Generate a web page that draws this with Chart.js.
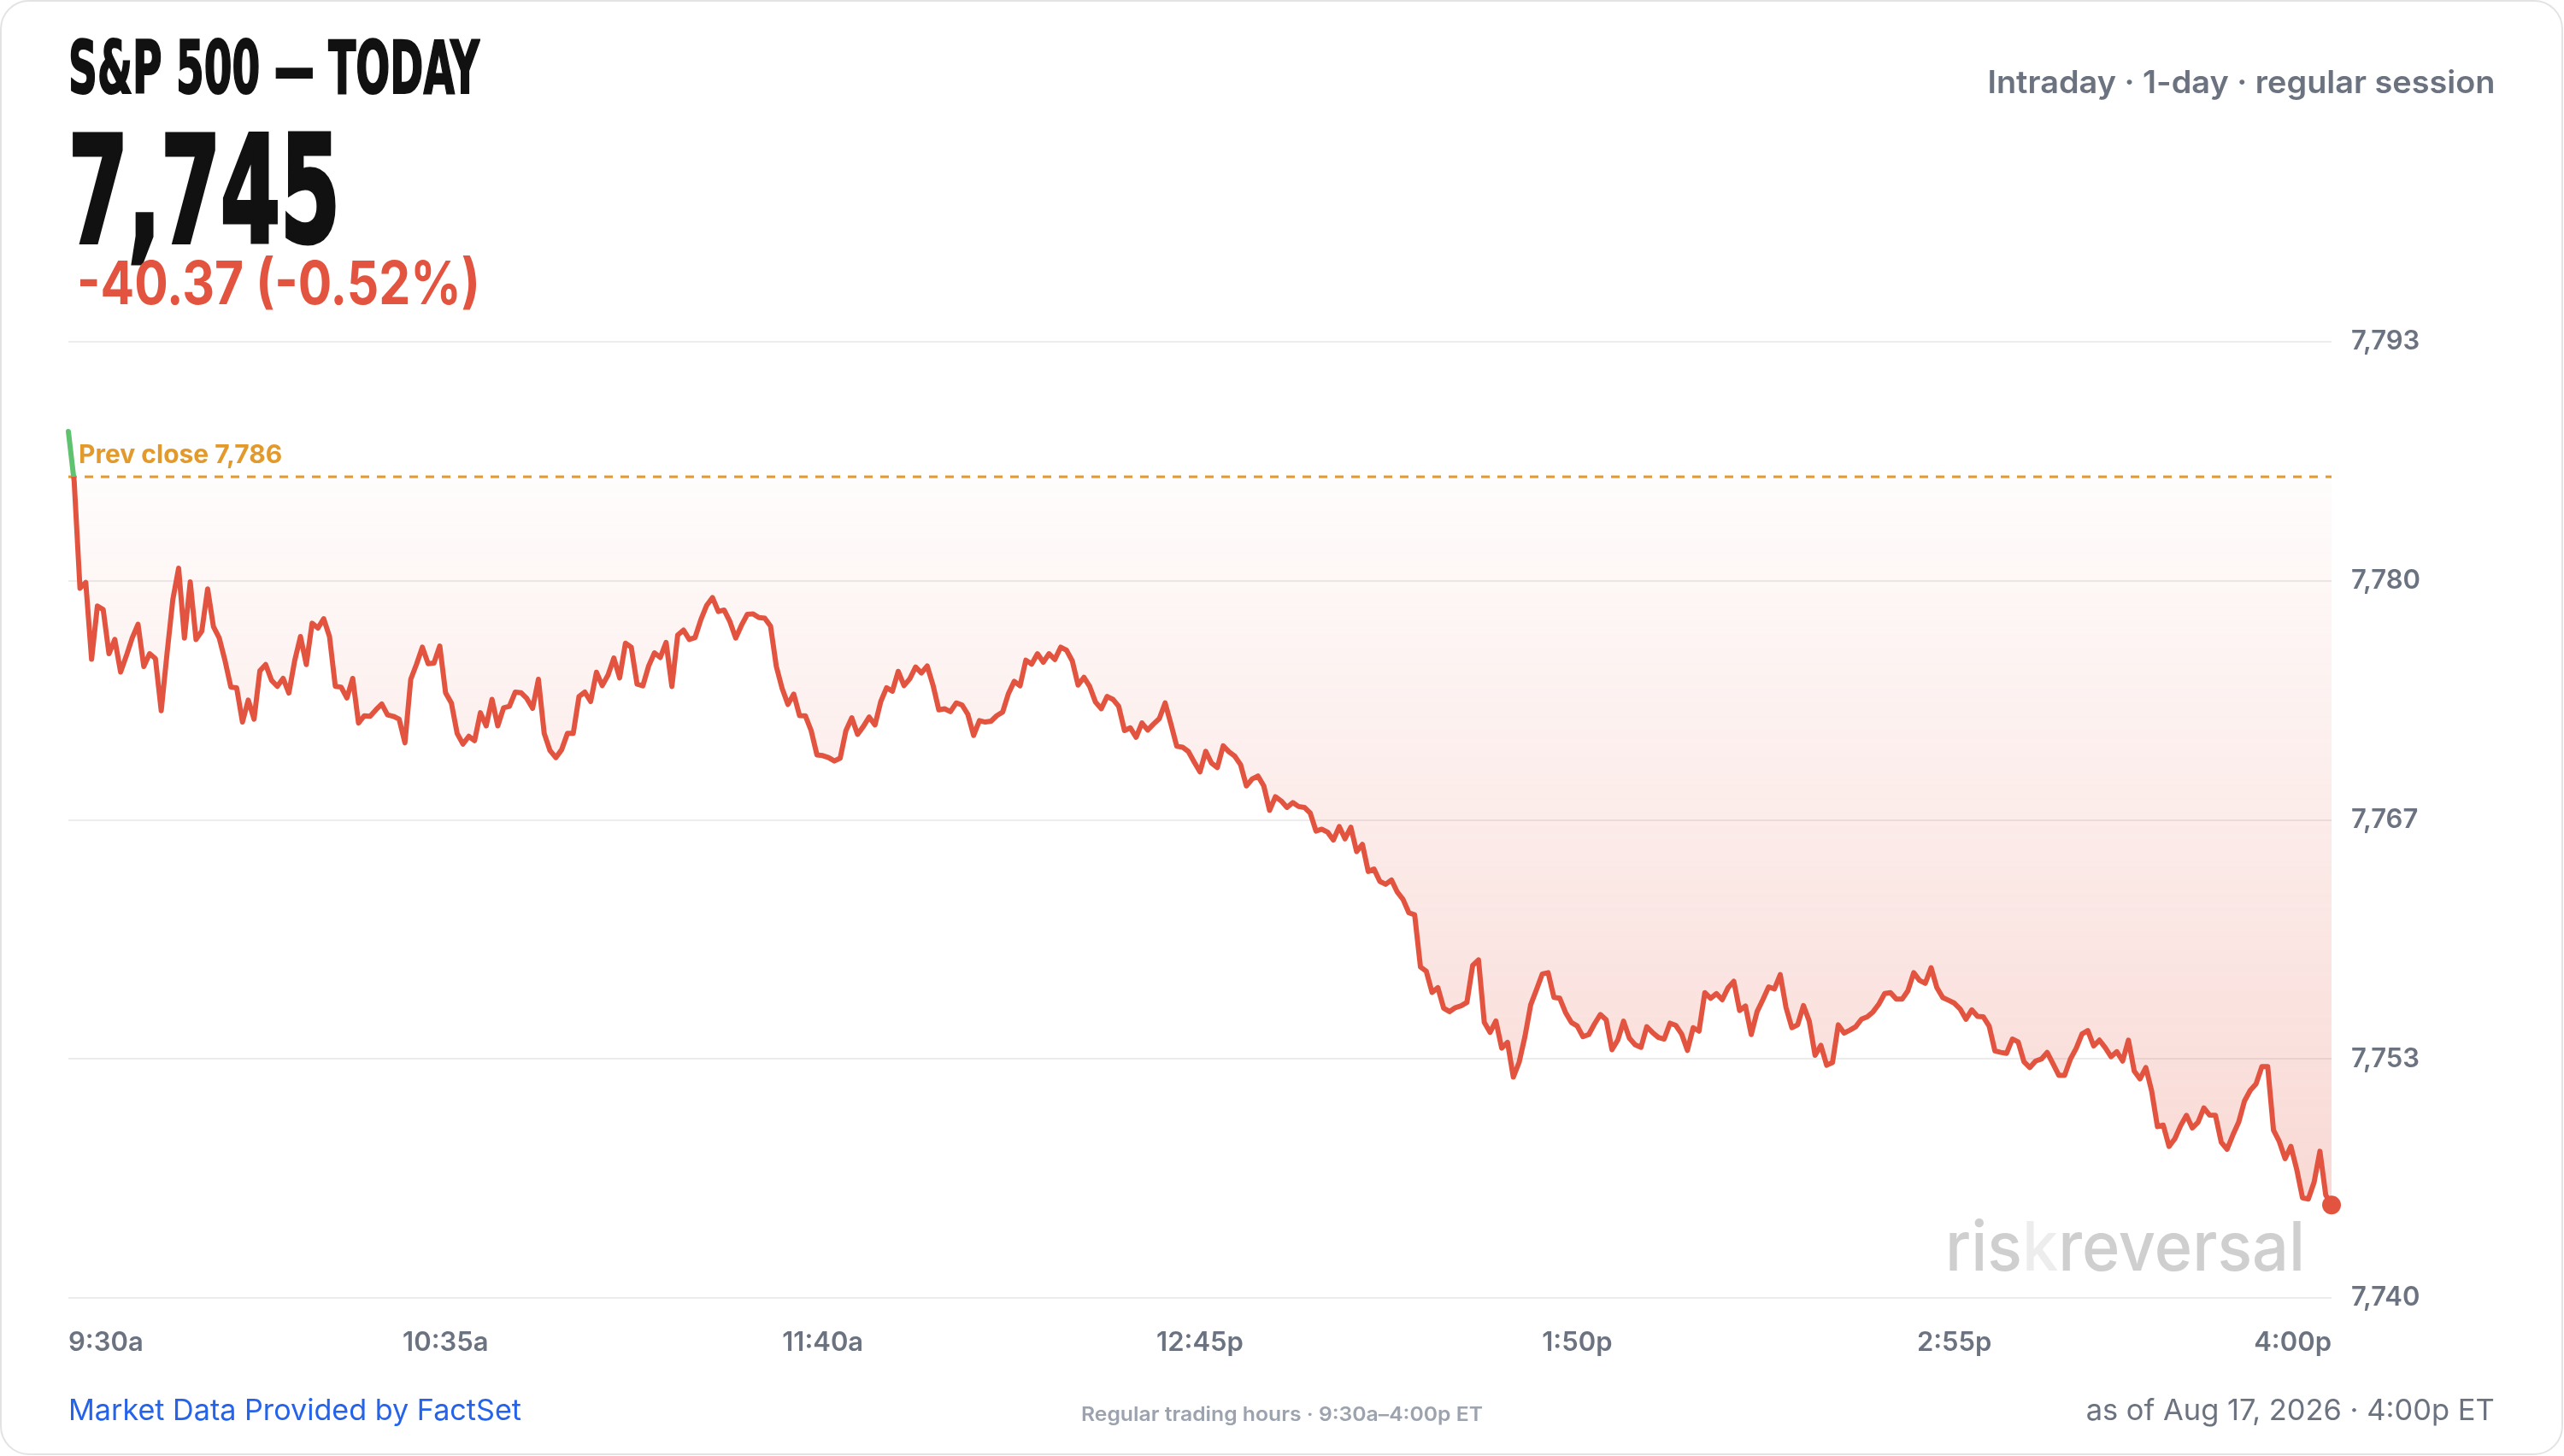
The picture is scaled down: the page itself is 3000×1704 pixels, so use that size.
<!DOCTYPE html>
<html>
<head>
<meta charset="utf-8">
<script src="https://cdn.jsdelivr.net/npm/chart.js@4.4.1/dist/chart.umd.min.js"></script>
<style>
  html, body { margin: 0; padding: 0; background: #fff; }
  body { width: 3000px; height: 1704px; position: relative; overflow: hidden; font-family: Inter, "Noto Sans", sans-serif; }
  .card { position: absolute; left: 0; top: 0; width: 2999px; height: 1703px; box-sizing: border-box; border: 2px solid #e3e3e3; border-radius: 34px; }
  .wrap { position: absolute; left: 0; top: 0; width: 3000px; height: 1704px; }
  .t { position: absolute; white-space: nowrap; line-height: 1; display: inline-block; }
  .heavy { font-family: "Liberation Sans Narrow", "DejaVu Sans Condensed", "Liberation Sans", sans-serif; font-weight: 700; color: #111; }
  #title { left: 80px; top: 36px; font-size: 86px; -webkit-text-stroke: 2px #111; }
  #price { left: 80px; top: 137px; font-size: 173px; -webkit-text-stroke: 5px #111; }
  #chg { left: 90px; top: 296px; font-size: 70px; font-weight: 700; color: #e2543f; }
  #sub { right: 81px; top: 77px; font-size: 37px; font-weight: 600; color: #6b7280; }
  #src { left: 80px; top: 1633px; font-size: 34px; color: #2563eb; }
  #hours { left: 1265px; top: 1644px; font-size: 23px; font-weight: 600; color: #9ca3af; }
  #asof { right: 81px; top: 1633px; font-size: 34px; color: #6b7280; }
  #mark { left: 2276px; top: 1418px; font-size: 80px; font-weight: 500; color: #cfcfcf; }
  #mark span { color: #ededed; }
</style>
</head>
<body>
<div class="card"></div>
<div class="wrap"><canvas id="chart"></canvas></div>

<div class="t heavy" id="title">S&amp;P 500 — TODAY</div>
<div class="t heavy" id="price"></div>
<div class="t" id="chg"></div>
<div class="t" id="sub">Intraday · 1-day · regular session</div>
<div class="t" id="mark">ris<span>k</span>reversal</div>
<div class="t" id="src">Market Data Provided by FactSet</div>
<div class="t" id="hours">Regular trading hours · 9:30a–4:00p ET</div>
<div class="t" id="asof">as of Aug 17, 2026 · 4:00p ET</div>

<script>
// one value per minute, 9:30a .. 4:00p
const prices = [
  7788.03, 7785.26, 7779.34, 7779.66, 7775.40, 7778.35, 7778.16, 7775.71, 7776.50, 7774.69,
  7775.60, 7776.58, 7777.34, 7775.00, 7775.71, 7775.44, 7772.55, 7775.71, 7778.71, 7780.45,
  7776.58, 7779.69, 7776.50, 7776.97, 7779.30, 7777.21, 7776.58, 7775.32, 7773.86, 7773.82,
  7771.92, 7773.14, 7772.08, 7774.76, 7775.11, 7774.24, 7773.90, 7774.34, 7773.53, 7775.32,
  7776.66, 7775.11, 7777.40, 7777.13, 7777.65, 7776.66, 7773.90, 7773.86, 7773.26, 7774.34,
  7771.87, 7772.27, 7772.24, 7772.60, 7772.92, 7772.32, 7772.24, 7772.08, 7770.77, 7774.29,
  7775.13, 7776.07, 7775.16, 7775.19, 7776.14, 7773.55, 7772.98, 7771.29, 7770.70, 7771.13,
  7770.89, 7772.44, 7771.71, 7773.18, 7771.71, 7772.71, 7772.79, 7773.58, 7773.55, 7773.23,
  7772.68, 7774.29, 7771.29, 7770.34, 7769.95, 7770.39, 7771.29, 7771.29, 7773.34, 7773.58,
  7773.06, 7774.68, 7773.94, 7774.53, 7775.47, 7774.37, 7776.29, 7776.07, 7774.02, 7773.93,
  7775.03, 7775.76, 7775.50, 7776.34, 7773.89, 7776.74, 7777.02, 7776.50, 7776.61, 7777.60,
  7778.39, 7778.82, 7778.05, 7778.13, 7777.49, 7776.58, 7777.29, 7777.89, 7777.92, 7777.71,
  7777.68, 7777.24, 7775.00, 7773.78, 7772.90, 7773.47, 7772.28, 7772.27, 7771.45, 7770.10,
  7770.06, 7769.95, 7769.76, 7769.92, 7771.45, 7772.16, 7771.24, 7771.68, 7772.20, 7771.76,
  7773.06, 7773.82, 7773.63, 7774.73, 7773.94, 7774.32, 7774.97, 7774.64, 7775.03, 7773.97,
  7772.60, 7772.66, 7772.50, 7772.98, 7772.87, 7772.35, 7771.18, 7772.00, 7771.92, 7771.97,
  7772.28, 7772.47, 7773.50, 7774.18, 7773.93, 7775.35, 7775.13, 7775.71, 7775.24, 7775.71,
  7775.39, 7776.07, 7775.91, 7775.31, 7773.97, 7774.40, 7773.89, 7773.03, 7772.66, 7773.34,
  7773.18, 7772.79, 7771.45, 7771.60, 7771.08, 7771.87, 7771.48, 7771.81, 7772.11, 7772.98,
  7771.81, 7770.58, 7770.53, 7770.29, 7769.71, 7769.16, 7770.30, 7769.64, 7769.40, 7770.60,
  7770.27, 7770.03, 7769.56, 7768.38, 7768.77, 7768.93, 7768.38, 7767.03, 7767.78, 7767.55,
  7767.19, 7767.46, 7767.24, 7767.19, 7766.88, 7765.88, 7765.98, 7765.82, 7765.38, 7766.13,
  7765.45, 7766.09, 7764.74, 7765.14, 7763.64, 7763.77, 7763.09, 7762.93, 7763.17, 7762.50,
  7762.09, 7761.35, 7761.24, 7758.35, 7758.11, 7756.93, 7757.20, 7756.06, 7755.87, 7756.09,
  7756.19, 7756.38, 7758.43, 7758.74, 7755.27, 7754.72, 7755.35, 7753.85, 7754.17, 7752.24,
  7753.06, 7754.48, 7756.25, 7757.09, 7757.96, 7758.03, 7756.66, 7756.61, 7755.82, 7755.27,
  7755.08, 7754.48, 7754.60, 7755.19, 7755.71, 7755.42, 7753.76, 7754.29, 7755.34, 7754.40,
  7754.03, 7753.89, 7755.03, 7754.71, 7754.44, 7754.35, 7755.23, 7755.11, 7754.63, 7753.72,
  7754.98, 7754.79, 7756.92, 7756.61, 7756.87, 7756.53, 7757.19, 7757.55, 7755.93, 7756.18,
  7754.60, 7755.86, 7756.53, 7757.24, 7757.13, 7757.92, 7756.09, 7754.98, 7755.14, 7756.21,
  7755.34, 7753.45, 7754.00, 7752.90, 7753.05, 7755.14, 7754.68, 7754.84, 7755.03, 7755.45,
  7755.58, 7755.86, 7756.29, 7756.87, 7756.92, 7756.56, 7756.56, 7757.03, 7758.03, 7757.60,
  7757.44, 7758.30, 7757.19, 7756.65, 7756.50, 7756.34, 7756.02, 7755.45, 7755.97, 7755.61,
  7755.58, 7755.07, 7753.69, 7753.61, 7753.56, 7754.35, 7754.19, 7753.09, 7752.77, 7753.13,
  7753.24, 7753.61, 7752.98, 7752.34, 7752.34, 7753.24, 7753.84, 7754.63, 7754.82, 7753.97,
  7754.29, 7753.87, 7753.37, 7753.65, 7753.13, 7754.29, 7752.58, 7752.14, 7752.77, 7751.47,
  7749.50, 7749.58, 7748.40, 7748.82, 7749.55, 7750.12, 7749.42, 7749.74, 7750.53, 7750.13,
  7750.12, 7748.63, 7748.24, 7749.03, 7749.74, 7750.92, 7751.51, 7751.87, 7752.82, 7752.82,
  7749.30, 7748.67, 7747.72, 7748.40, 7747.13, 7745.55, 7745.48, 7746.42, 7748.13, 7745.71,
  7745.15
];
const prevClose = 7785.52;

const xTickMinutes = [0, 65, 130, 195, 260, 325, 390];
const xTickLabels = ["9:30a", "10:35a", "11:40a", "12:45p", "1:50p", "2:55p", "4:00p"];
const yTickValues = [7740, 7753.25, 7766.5, 7779.75, 7793];
const yTickLabels = ["7,740", "7,753", "7,767", "7,780", "7,793"];

const RED = "#e2543f";
const GREEN = "#5fc26e";
const ORANGE = "#e39a2d";

const last = prices[prices.length - 1];
const diff = last - prevClose;
document.getElementById("price").textContent = Math.round(last).toLocaleString("en-US");
document.getElementById("chg").textContent =
  diff.toFixed(2) + " (" + (diff / prevClose * 100).toFixed(2) + "%)";

// squeeze / stretch text blocks to the widths in the reference
function fit(id, width, origin) {
  const el = document.getElementById(id);
  const w = el.getBoundingClientRect().width;
  el.style.transformOrigin = origin || "left top";
  el.style.transform = "scaleX(" + (width / w) + ")";
}
fit("title", 481);
fit("price", 318);
fit("chg", 472);
fit("sub", 594, "right top");
fit("src", 530);
fit("hours", 470);
fit("asof", 478, "right top");
fit("mark", 421);

const lineColor = (c) => {
  const { chart } = c;
  const area = chart.chartArea;
  if (!area) return RED;
  const y0 = chart.scales.y.getPixelForValue(prevClose);
  const f = Math.min(Math.max((y0 - area.top) / (area.bottom - area.top), 0), 1);
  const g = chart.ctx.createLinearGradient(0, area.top, 0, area.bottom);
  g.addColorStop(0, GREEN);
  g.addColorStop(f, GREEN);
  g.addColorStop(f, RED);
  g.addColorStop(1, RED);
  return g;
};

const fillColor = (c) => {
  const { chart } = c;
  const area = chart.chartArea;
  if (!area) return "rgba(226,84,64,0.1)";
  const y0 = chart.scales.y.getPixelForValue(prevClose);
  const g = chart.ctx.createLinearGradient(0, y0, 0, area.bottom);
  g.addColorStop(0, "rgba(226,84,64,0.015)");
  g.addColorStop(1, "rgba(226,84,64,0.25)");
  return g;
};

const prevCloseLabel = {
  id: "prevCloseLabel",
  afterDatasetsDraw(chart) {
    const { ctx, chartArea, scales } = chart;
    const y = scales.y.getPixelForValue(prevClose);
    ctx.save();
    ctx.font = "700 30px Inter";
    ctx.fillStyle = ORANGE;
    ctx.textBaseline = "alphabetic";
    ctx.fillText("Prev close " + Math.round(prevClose).toLocaleString("en-US"), chartArea.left + 12, y - 16);
    ctx.restore();
  }
};

const tickFont = { family: "Inter", size: 31, weight: "600" };

new Chart(document.getElementById("chart"), {
  type: "line",
  data: {
    datasets: [
      {
        data: prices.map((p, i) => ({ x: i, y: p })),
        borderColor: lineColor,
        backgroundColor: fillColor,
        fill: { value: prevClose },
        borderWidth: 6,
        tension: 0,
        borderJoinStyle: "round",
        borderCapStyle: "round",
        pointRadius: (c) => (c.dataIndex === prices.length - 1 ? 11 : 0),
        pointHoverRadius: 0,
        pointBackgroundColor: RED,
        pointBorderWidth: 0,
        clip: false
      },
      {
        data: [{ x: 0, y: prevClose }, { x: 390, y: prevClose }],
        borderColor: ORANGE,
        borderWidth: 3,
        borderDash: [10, 9],
        pointRadius: 0,
        fill: false
      }
    ]
  },
  options: {
    animation: false,
    responsive: true,
    maintainAspectRatio: false,
    layout: { padding: { left: 80, top: 400, right: 122, bottom: 115 } },
    plugins: { legend: { display: false }, tooltip: { enabled: false } },
    scales: {
      x: {
        type: "linear",
        min: 0,
        max: 390,
        grid: { display: false },
        border: { display: false },
        afterBuildTicks: (s) => { s.ticks = xTickMinutes.map((v) => ({ value: v })); },
        afterFit: (s) => { s.height = 70; },
        ticks: {
          align: "inner",
          autoSkip: false,
          maxRotation: 0,
          padding: 26,
          color: "#6b7280",
          font: tickFont,
          callback: (v, i) => xTickLabels[i]
        }
      },
      y: {
        position: "right",
        min: 7740,
        max: 7793,
        grid: { color: "#ececec", lineWidth: 2, drawTicks: false },
        border: { display: false },
        afterBuildTicks: (s) => { s.ticks = yTickValues.map((v) => ({ value: v })); },
        afterFit: (s) => { s.width = 150; },
        ticks: {
          padding: 23,
          color: "#6b7280",
          font: tickFont,
          callback: (v, i) => yTickLabels[i]
        }
      }
    }
  },
  plugins: [prevCloseLabel]
});
</script>
</body>
</html>
